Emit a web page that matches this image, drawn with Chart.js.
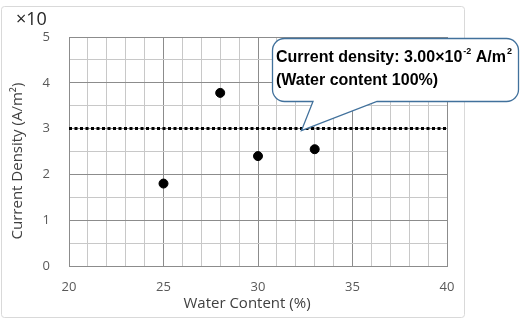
<!DOCTYPE html>
<html>
<head>
<meta charset="utf-8">
<script src="https://cdn.jsdelivr.net/npm/chart.js@4/dist/chart.umd.min.js"></script>
<style>
  html, body { margin: 0; padding: 0; background: #fff; }
  #wrap { width: 520px; height: 321px; position: relative; }
</style>
</head>
<body>
<div id="wrap"><canvas id="chart" width="520" height="321"></canvas></div>
<script>
// measured points (x = water content %, y = current density in units of 10^-2 A/m^2)
const waterContent = [25, 28, 30, 33];
const currentDensity = [1.8, 3.78, 2.4, 2.55];

// reference level at 100% water content
const refLevel = 3.0;
const refRange = [20, 40];

const xTickLabels = [20, 25, 30, 35, 40];
const yTickLabels = [0, 1, 2, 3, 4, 5];

const GRID_MAJOR = "#8c8c8c";
const GRID_MINOR = "#c8c8c8";
const LABEL_COLOR = "#595959";
const TITLE_FONT = "15px 'Open Sans', sans-serif";

const frame = {
  id: "frame",
  beforeDraw(chart) {
    const c = chart.ctx;
    c.save();
    c.fillStyle = "#fff";
    c.fillRect(0, 0, chart.width, chart.height);
    c.strokeStyle = "#d9d9d9";
    c.lineWidth = 1;
    c.beginPath();
    c.roundRect(1.5, 6.5, 463, 311, 3);
    c.stroke();
    // multiplier above the y axis
    c.fillStyle = "#262626";
    c.font = "18px 'Open Sans', sans-serif";
    c.textBaseline = "middle";
    c.fillText("\u00d710", 16, 20);

    // axis titles
    c.fillStyle = "#404040";
    c.font = TITLE_FONT;
    c.textAlign = "center";
    c.fillText("Water Content (%)", 247, 304);
    c.translate(18, 161);
    c.rotate(-Math.PI / 2);
    c.font = TITLE_FONT;
    c.fillText("Current Density (A/m\u00b2)", 0, 0);
    c.restore();
  },
};

const callout = {
  id: "callout",
  afterDraw(chart) {
    const c = chart.ctx;
    const x = chart.scales.x, y = chart.scales.y;
    // tip points at the reference line
    const tipX = x.getPixelForValue(32.3);
    const tipY = y.getPixelForValue(refLevel) + 2;
    const L = 272.5, T = 38.5, R = 518.5, B = 101.5, r = 12;
    const b1 = 313, b2 = 377;
    c.save();
    c.beginPath();
    c.moveTo(L + r, T);
    c.lineTo(R - r, T);
    c.arcTo(R, T, R, T + r, r);
    c.lineTo(R, B - r);
    c.arcTo(R, B, R - r, B, r);
    c.lineTo(b2, B);
    c.lineTo(tipX, tipY);
    c.lineTo(b1, B);
    c.lineTo(L + r, B);
    c.arcTo(L, B, L, B - r, r);
    c.lineTo(L, T + r);
    c.arcTo(L, T, L + r, T, r);
    c.closePath();
    c.fillStyle = "#fff";
    c.fill();
    c.strokeStyle = "#41719c";
    c.lineWidth = 1.3;
    c.stroke();

    c.fillStyle = "#000";
    c.textBaseline = "alphabetic";
    const big = "bold 16px 'Liberation Sans', Arial, sans-serif";
    const small = "bold 9px 'Liberation Sans', Arial, sans-serif";
    let cx = 276;
    const base = 62;
    const parts = [
      ["Current density: 3.00\u00d710", big, 0, 1],
      ["-2", small, -8, 0],
      [" A/m", big, 0, 1],
      ["2", small, -8, 0],
    ];
    for (const [txt, f, dy, gap] of parts) {
      c.font = f;
      c.fillText(txt, cx, base + dy);
      cx += c.measureText(txt).width + gap;
    }
    c.font = big;
    c.fillText("(Water content 100%)", 276, 85);
    c.restore();
  },
};

new Chart(document.getElementById("chart"), {
  type: "scatter",
  data: {
    datasets: [
      {
        label: "Measured",
        data: waterContent.map((v, i) => ({ x: v, y: currentDensity[i] })),
        backgroundColor: "#000",
        borderColor: "#000",
        pointRadius: 4.5,
        pointHoverRadius: 4.5,
      },
      {
        label: "Water content 100%",
        type: "line",
        data: refRange.map((v) => ({ x: v, y: refLevel })),
        borderColor: "#000",
        borderWidth: 3,
        borderDash: [3, 2.5],
        pointRadius: 0,
        fill: false,
      },
    ],
  },
  plugins: [frame, callout],
  options: {
    responsive: false,
    animation: false,
    layout: { padding: { top: 37, right: 73, left: 0, bottom: 0 } },
    plugins: {
      legend: { display: false },
      tooltip: { enabled: false },
    },
    scales: {
      x: {
        type: "linear",
        min: 20,
        max: 40,
        afterFit: (s) => { s.height = 55; },
        afterBuildTicks: (s) => {
          s.ticks = [];
          for (let v = 20; v <= 40; v++) s.ticks.push({ value: v });
        },
        border: { display: true, color: GRID_MAJOR, width: 1 },
        grid: {
          drawTicks: false,
          color: (ctx) => (xTickLabels.includes(ctx.tick.value) ? GRID_MAJOR : GRID_MINOR),
          lineWidth: 1,
        },
        ticks: {
          padding: 13,
          autoSkip: false,
          maxRotation: 0,
          color: LABEL_COLOR,
          font: { family: "'Open Sans', sans-serif", size: 13 },
          callback: (v) => (xTickLabels.includes(v) ? v : ""),
        },
      },
      y: {
        type: "linear",
        min: 0,
        max: 5,
        afterFit: (s) => { s.width = 69; },
        afterBuildTicks: (s) => {
          s.ticks = [];
          for (let v = 0; v <= 10; v++) s.ticks.push({ value: v / 2 });
        },
        border: { display: true, color: GRID_MAJOR, width: 1 },
        grid: {
          drawTicks: false,
          color: (ctx) => (yTickLabels.includes(ctx.tick.value) ? GRID_MAJOR : GRID_MINOR),
          lineWidth: 1,
        },
        ticks: {
          padding: 19,
          autoSkip: false,
          color: LABEL_COLOR,
          font: { family: "'Open Sans', sans-serif", size: 13 },
          callback: (v) => (yTickLabels.includes(v) ? v : ""),
        },
      },
    },
  },
});
</script>
</body>
</html>
